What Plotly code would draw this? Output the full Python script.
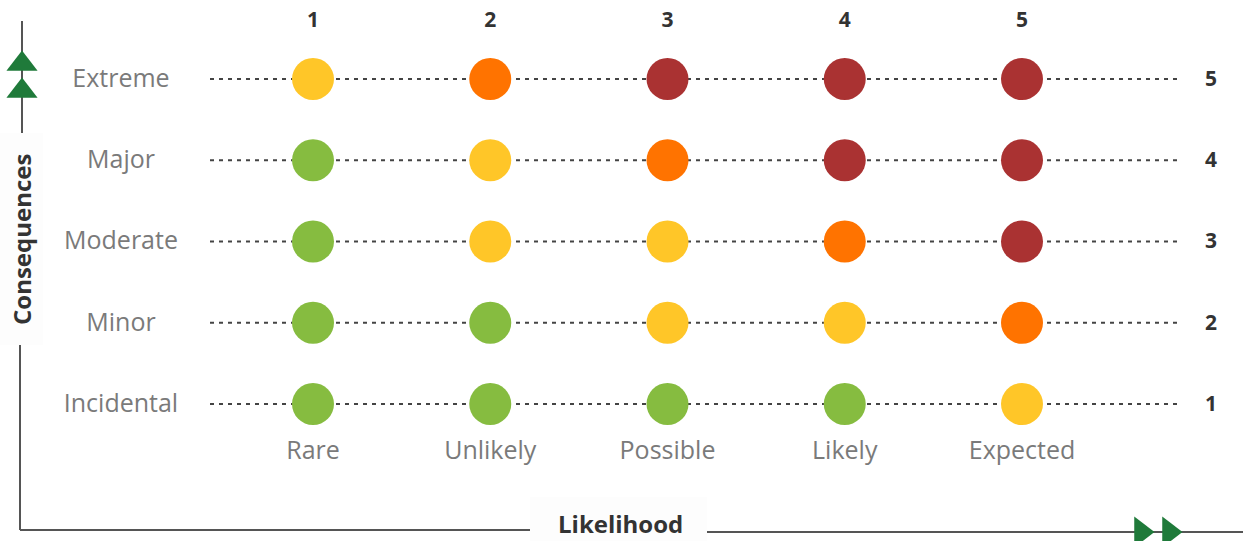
import plotly.graph_objects as go

# ---- data ----
likelihood_labels = ["Rare", "Unlikely", "Possible", "Likely", "Expected"]
likelihood_levels = [1, 2, 3, 4, 5]
consequence_labels = ["Incidental", "Minor", "Moderate", "Major", "Extreme"]
consequence_levels = [1, 2, 3, 4, 5]
# risk rating per (consequence row, likelihood column): L=low, M=medium, H=high, E=extreme
risk_matrix = [
    ["L", "L", "L", "L", "M"],  # Incidental
    ["L", "L", "M", "M", "H"],  # Minor
    ["L", "M", "M", "H", "E"],  # Moderate
    ["L", "M", "H", "E", "E"],  # Major
    ["M", "H", "E", "E", "E"],  # Extreme
]
risk_colors = {"L": "#86BC40", "M": "#FFC628", "H": "#FF7300", "E": "#AA3232"}

W, H = 1248, 541
# axis ranges chosen so that column 1 -> px 313, column 5 -> px 1022; row 1 -> py 404, row 5 -> py 79
sx = (1022 - 313) / 4.0
sy = (404 - 79) / 4.0
x0 = 1 - 313 / sx
x1 = x0 + W / sx
y1 = 1 + 404 / sy
y0 = y1 - H / sy

def px(p):
    return x0 + p / sx

def py(p):
    return y1 - p / sy

fig = go.Figure()

# dotted guide lines for each consequence row
for lvl in consequence_levels:
    fig.add_trace(go.Scatter(
        x=[px(210), px(1180)], y=[lvl, lvl], mode="lines",
        line=dict(color="#444444", width=2, dash="4px,5px"),
        hoverinfo="skip", showlegend=False))

# circles
for ri, lvl in enumerate(consequence_levels):
    fig.add_trace(go.Scatter(
        x=likelihood_levels, y=[lvl] * len(likelihood_levels), mode="markers",
        marker=dict(size=42, color=[risk_colors[r] for r in risk_matrix[ri]],
                    line=dict(width=0)),
        showlegend=False, hoverinfo="skip"))

off = 1.5 / sy  # small downward text offset

# label texts
fig.add_trace(go.Scatter(
    x=[px(121)] * 5, y=[v - off for v in consequence_levels], mode="text",
    text=consequence_labels, textposition="middle center",
    textfont=dict(family="Open Sans", size=25, color="#7A7A7A"),
    showlegend=False, hoverinfo="skip"))
fig.add_trace(go.Scatter(
    x=likelihood_levels, y=[py(453)] * 5, mode="text",
    text=likelihood_labels, textposition="middle center",
    textfont=dict(family="Open Sans", size=25, color="#7A7A7A"),
    showlegend=False, hoverinfo="skip"))
fig.add_trace(go.Scatter(
    x=likelihood_levels, y=[py(22)] * 5, mode="text",
    text=[f"<b>{v}</b>" for v in likelihood_levels], textposition="middle center",
    textfont=dict(family="Open Sans", size=21, color="#333333"),
    showlegend=False, hoverinfo="skip"))
fig.add_trace(go.Scatter(
    x=[px(1211)] * 5, y=[v - off for v in consequence_levels], mode="text",
    text=[f"<b>{v}</b>" for v in consequence_levels], textposition="middle center",
    textfont=dict(family="Open Sans", size=21, color="#333333"),
    showlegend=False, hoverinfo="skip"))

# arrows
fig.add_trace(go.Scatter(
    x=[px(22), px(22)], y=[py(64), py(91)], mode="markers",
    marker=dict(symbol="triangle-up", size=27, color="#1F7A3A", line=dict(width=0)),
    showlegend=False, hoverinfo="skip"))
fig.add_trace(go.Scatter(
    x=[px(1141), px(1169)], y=[py(532), py(532)], mode="markers",
    marker=dict(symbol="triangle-right", size=27, color="#1F7A3A", line=dict(width=0)),
    showlegend=False, hoverinfo="skip"))

def pxp(p):
    return p / W

def pyp(p):
    return 1 - p / H

shapes = [
    # very light background boxes behind axis titles
    dict(type="rect", xref="paper", yref="paper", x0=pxp(0), x1=pxp(43), y0=pyp(345), y1=pyp(133),
         fillcolor="#FDFDFD", line=dict(width=0), layer="below"),
    dict(type="rect", xref="paper", yref="paper", x0=pxp(530), x1=pxp(707), y0=pyp(541), y1=pyp(497),
         fillcolor="#FDFDFD", line=dict(width=0), layer="below"),
    # vertical axis line (with gap for title)
    dict(type="line", xref="paper", yref="paper", x0=pxp(22), x1=pxp(22), y0=pyp(21), y1=pyp(133),
         line=dict(color="#555555", width=2), layer="below"),
    dict(type="line", xref="paper", yref="paper", x0=pxp(20), x1=pxp(20), y0=pyp(345), y1=pyp(530),
         line=dict(color="#555555", width=2), layer="below"),
    # horizontal axis line (with gap for title)
    dict(type="line", xref="paper", yref="paper", x0=pxp(20), x1=pxp(530), y0=pyp(530), y1=pyp(530),
         line=dict(color="#555555", width=2), layer="below"),
    dict(type="line", xref="paper", yref="paper", x0=pxp(707), x1=pxp(1243), y0=pyp(532), y1=pyp(532),
         line=dict(color="#555555", width=2), layer="below"),
]

annotations = [
    dict(text="<b>Consequences</b>", xref="paper", yref="paper", x=pxp(21), y=pyp(240),
         textangle=-90, showarrow=False, xanchor="center", yanchor="middle",
         font=dict(family="Open Sans", size=24, color="#333333")),
    dict(text="<b>Likelihood</b>", xref="paper", yref="paper", x=pxp(620), y=pyp(541),
         showarrow=False, xanchor="center", yanchor="bottom", borderpad=0,
         font=dict(family="Open Sans", size=24, color="#333333")),
]

fig.update_layout(
    width=W, height=H,
    margin=dict(l=0, r=0, t=0, b=0),
    paper_bgcolor="white", plot_bgcolor="white",
    xaxis=dict(range=[x0, x1], visible=False, fixedrange=True),
    yaxis=dict(range=[y0, y1], visible=False, fixedrange=True),
    shapes=shapes, annotations=annotations,
    showlegend=False,
)

fig.write_html("out.html", config={"displayModeBar": False})
